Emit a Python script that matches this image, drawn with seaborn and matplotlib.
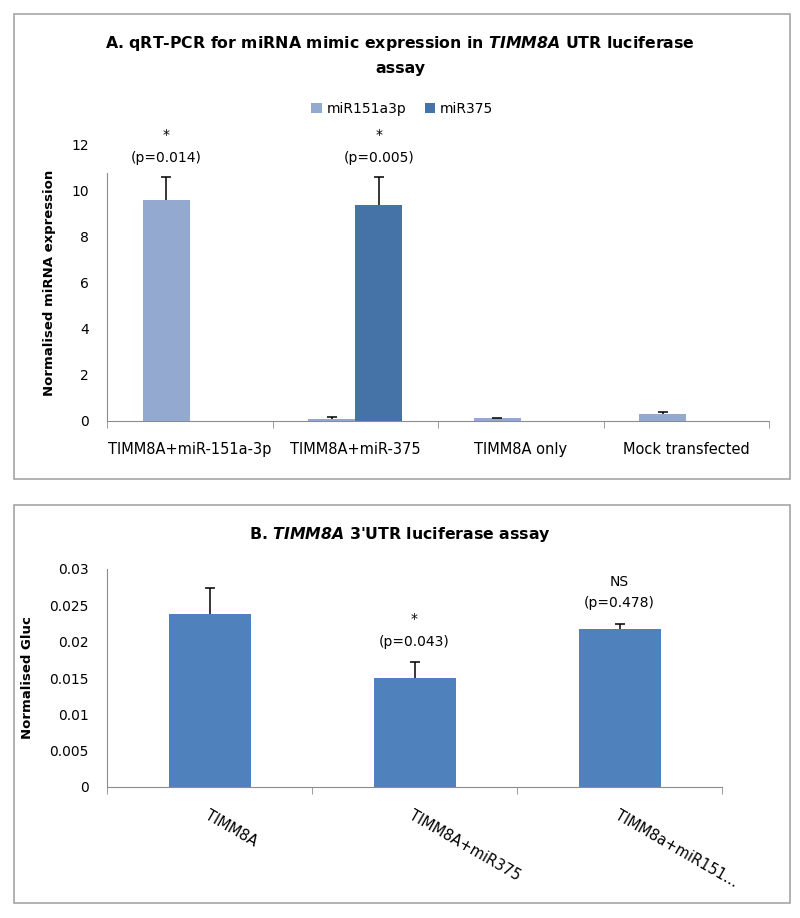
import numpy as np
import pandas as pd
import matplotlib
matplotlib.use('Agg')
import matplotlib.pyplot as plt
import seaborn as sns
from matplotlib.patches import Rectangle
from matplotlib.ticker import FuncFormatter

# panel A data
groups_a = ['TIMM8A+miR-151a-3p', 'TIMM8A+miR-375', 'TIMM8A only', 'Mock transfected']
mimics = ['miR151a3p', 'miR375']
mir151 = [9.6, 0.08, 0.12, 0.32]
mir151_err = [1.0, 0.08, 0.03, 0.05]
mir375 = [0.01, 9.4, 0.01, 0.01]
mir375_err = [0.0, 1.2, 0.0, 0.0]
pvals_a = ['*\n(p=0.014)', '*\n(p=0.005)']

# panel B data
groups_b = ['TIMM8A', 'TIMM8A+miR375', 'TIMM8a+miR151...']
gluc = [0.0238, 0.0150, 0.0218]
gluc_err = [0.0036, 0.0022, 0.0007]

sns.set_style('white')
plt.rcParams['font.family'] = ['DejaVu Sans']
plt.rcParams['mathtext.fontset'] = 'dejavusans'
for k in ['text.color', 'axes.labelcolor', 'xtick.color', 'ytick.color']:
    plt.rcParams[k] = 'black'

col151 = '#93a9cf'
col375 = '#4573a7'
colb = '#4f81bd'
grey = '#8c8c8c'


def plus_errorbars(ax, xs, ys, errs):
    # Excel style "plus" error bars: only the upper whisker and cap
    keep = [i for i, e in enumerate(errs) if e > 0]
    eb = ax.errorbar([xs[i] for i in keep], [ys[i] for i in keep],
                     yerr=[[0] * len(keep), [errs[i] for i in keep]],
                     fmt='none', ecolor='black', elinewidth=1.1, capsize=3.5, capthick=1.1)
    eb[1][0].set_visible(False)


fig = plt.figure(figsize=(8, 9.18), dpi=100)

# outer frames of the two panels
for y0, y1 in [(14, 479), (505, 903)]:
    fig.add_artist(Rectangle((14 / 800, 1 - y1 / 918), 776 / 800, (y1 - y0) / 918,
                             transform=fig.transFigure, fill=False, ec='#a6a6a6', lw=1.2))

# ---------------- panel A ----------------
df_a = pd.DataFrame({'group': groups_a * 2,
                     'mimic': [mimics[0]] * 4 + [mimics[1]] * 4,
                     'expr': mir151 + mir375})
ax = fig.add_axes([107 / 800, 1 - 421 / 918, 662 / 800, 276 / 918])
sns.barplot(data=df_a, x='group', y='expr', hue='mimic', order=groups_a, hue_order=mimics,
            palette=[col151, col375], width=0.57, saturation=1, errorbar=None, linewidth=0, ax=ax)

for cont, errs in zip(ax.containers, [mir151_err, mir375_err]):
    xs = [p.get_x() + p.get_width() / 2 for p in cont]
    ys = [p.get_height() for p in cont]
    plus_errorbars(ax, xs, ys, errs)

# significance labels above the two mimic bars
p1 = ax.containers[0][0]
p2 = ax.containers[1][1]
for p, txt in zip([p1, p2], pvals_a):
    ax.text(p.get_x() + p.get_width() / 2, 11.12, txt, ha='center', va='bottom',
            fontsize=10, linespacing=1.8, clip_on=False)

ax.set_ylim(0, 12)
ax.set_yticks(range(0, 13, 2))
ax.set_xlim(-0.5, 3.5)
ax.set_xticks(np.arange(-0.5, 4, 1), minor=True)
ax.tick_params(axis='x', which='major', length=0, pad=15, labelsize=10.5)
ax.tick_params(axis='x', which='minor', length=5, color=grey, direction='out', bottom=True)
ax.tick_params(axis='y', length=0, pad=13, labelsize=10)
ax.set_xlabel('')
ax.set_ylabel('Normalised miRNA expression', fontsize=9.5, fontweight='bold', labelpad=11)
sns.despine(ax=ax)
for s in ['left', 'bottom']:
    ax.spines[s].set_color(grey)
ax.spines['left'].set_bounds(0, 10.8)

sns.move_legend(ax, 'center', bbox_to_anchor=(0.446, 1.13), ncol=2, frameon=False, title=None,
                fontsize=10, handlelength=0.75, handleheight=0.75, handletextpad=0.35,
                columnspacing=1.3)

fig.text(0.5, 1 - 55 / 918,
         'A. qRT-PCR for miRNA mimic expression in $\\mathbfit{TIMM8A}$ UTR luciferase\nassay',
         ha='center', va='center', fontsize=11.3, fontweight='bold', linespacing=1.6)

# ---------------- panel B ----------------
df_b = pd.DataFrame({'group': groups_b, 'gluc': gluc})
axb = fig.add_axes([107 / 800, 1 - 787 / 918, 615 / 800, 218 / 918])
sns.barplot(data=df_b, x='group', y='gluc', color=colb, width=0.4, saturation=1,
            errorbar=None, linewidth=0, ax=axb)

bars = axb.containers[0]
xb = [p.get_x() + p.get_width() / 2 for p in bars]
plus_errorbars(axb, xb, gluc, gluc_err)

axb.text(xb[1], 0.01905, '*\n(p=0.043)', ha='center', va='bottom', fontsize=10, linespacing=1.8)
axb.text(xb[2], 0.02435, 'NS\n(p=0.478)', ha='center', va='bottom', fontsize=10, linespacing=1.6)

axb.set_ylim(0, 0.03)
axb.set_yticks(np.arange(0, 0.0301, 0.005))
axb.yaxis.set_major_formatter(FuncFormatter(lambda v, _: '{:g}'.format(round(v, 3))))
axb.set_xlim(-0.5, 2.5)
axb.set_xticks(np.arange(-0.5, 3, 1), minor=True)
axb.tick_params(axis='x', which='major', length=0, pad=15, labelsize=10.5)
axb.tick_params(axis='x', which='minor', length=5, color=grey, direction='out', bottom=True)
axb.tick_params(axis='y', length=0, pad=13, labelsize=10)
plt.setp(axb.get_xticklabels(), rotation=-30, ha='left', va='top', rotation_mode='anchor')
axb.set_xlabel('')
axb.set_ylabel('Normalised Gluc', fontsize=9.5, fontweight='bold', labelpad=11)
sns.despine(ax=axb)
for s in ['left', 'bottom']:
    axb.spines[s].set_color(grey)

fig.text(0.5, 1 - 535 / 918, 'B. $\\mathbfit{TIMM8A}$ 3\'UTR luciferase assay',
         ha='center', va='center', fontsize=11.3, fontweight='bold')

fig.savefig('out.png', dpi=100)
